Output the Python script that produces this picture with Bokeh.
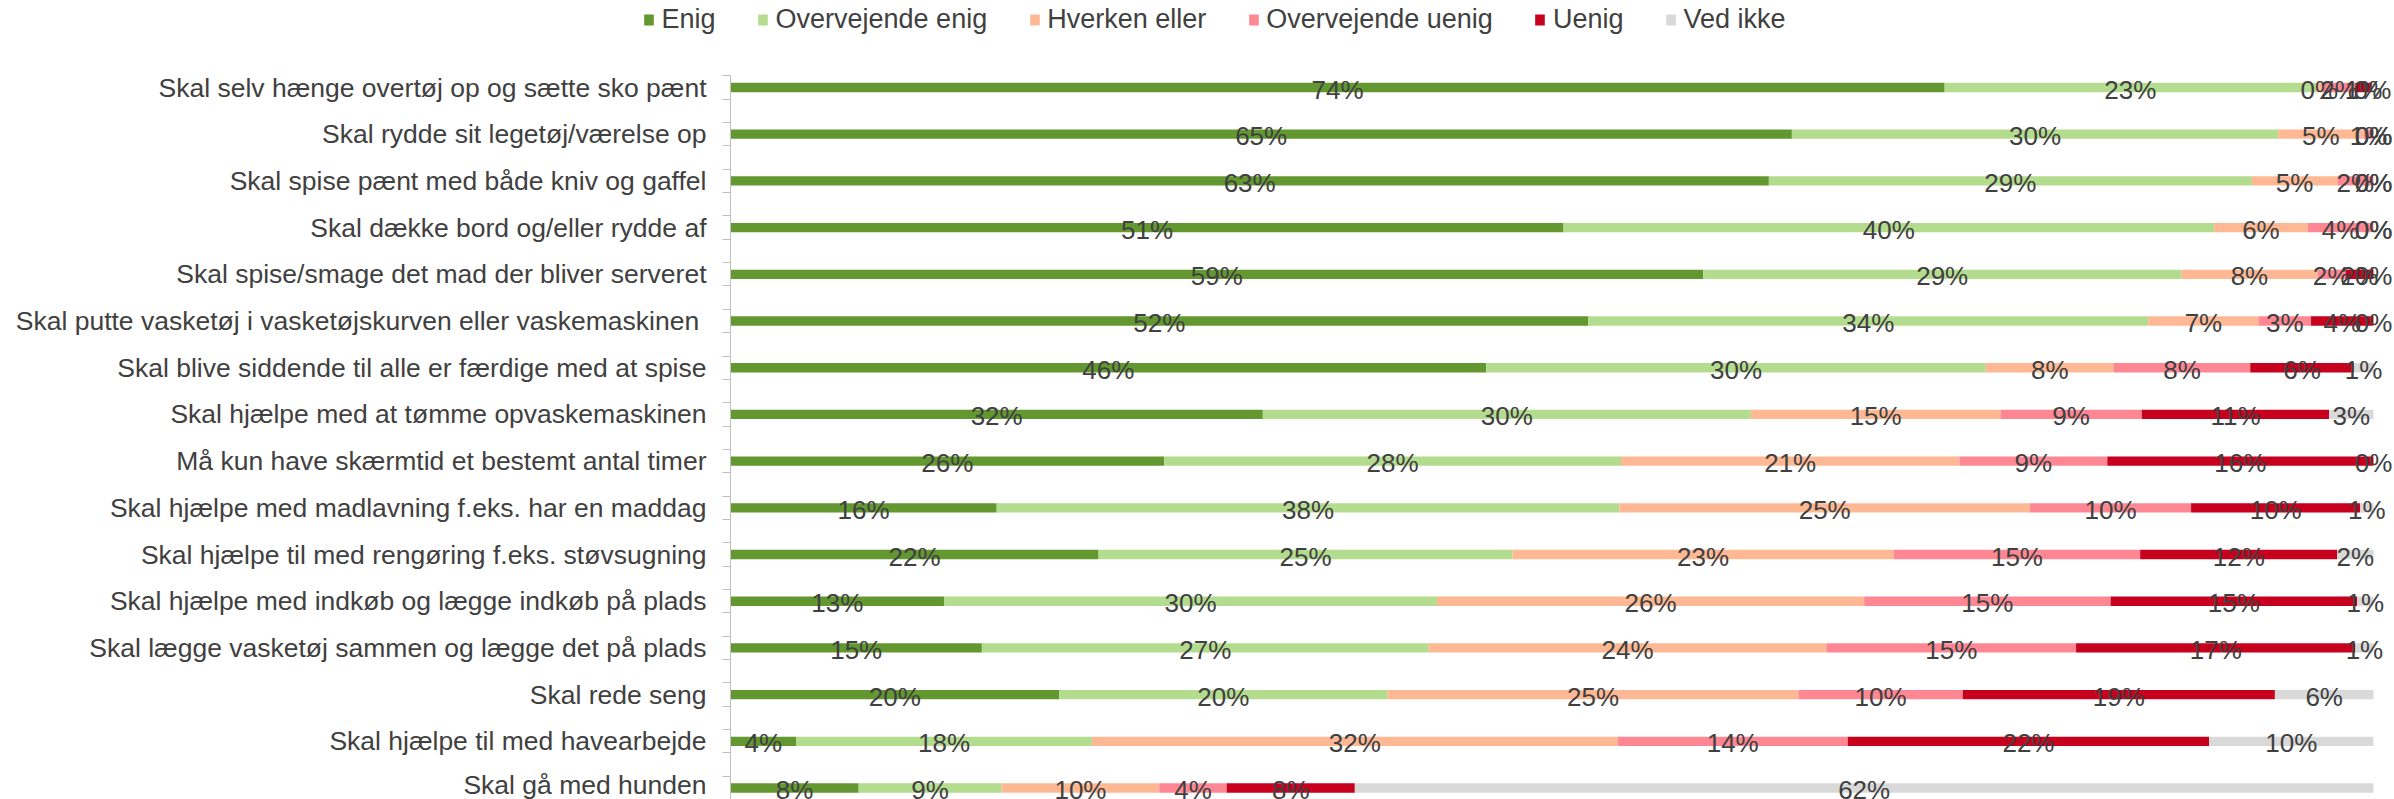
from bokeh.plotting import figure
from bokeh.layouts import column
from bokeh.models import Range1d, FixedTicker, Legend, LegendItem, ColumnDataSource
from bokeh.embed import file_html
from bokeh.resources import INLINE
from bokeh.core.properties import value

categories = [
    "Skal selv hænge overtøj op og sætte sko pænt",
    "Skal rydde sit legetøj/værelse op",
    "Skal spise pænt med både kniv og gaffel",
    "Skal dække bord og/eller rydde af",
    "Skal spise/smage det mad der bliver serveret",
    "Skal putte vasketøj i vasketøjskurven eller vaskemaskinen ",
    "Skal blive siddende til alle er færdige med at spise",
    "Skal hjælpe med at tømme opvaskemaskinen",
    "Må kun have skærmtid et bestemt antal timer",
    "Skal hjælpe med madlavning f.eks. har en maddag",
    "Skal hjælpe til med rengøring f.eks. støvsugning",
    "Skal hjælpe med indkøb og lægge indkøb på plads",
    "Skal lægge vasketøj sammen og lægge det på plads",
    "Skal rede seng",
    "Skal hjælpe til med havearbejde",
    "Skal gå med hunden",
]

series_names = ["Enig", "Overvejende enig", "Hverken eller",
                "Overvejende uenig", "Uenig", "Ved ikke"]

enig        = [73.9, 64.6, 63.2, 50.7, 59.2, 52.2, 46.0, 32.4, 26.4, 16.2, 22.4, 13.0, 15.3, 20.0, 4.0, 7.8]
overv_enig  = [22.6, 29.6, 29.4, 39.6, 29.1, 34.1, 30.4, 29.7, 27.8, 37.9, 25.2, 30.0, 27.2, 20.0, 18.0, 8.7]
hverken     = [0.4, 5.2, 5.2, 5.7, 8.3, 6.7, 7.8, 15.2, 20.6, 25.0, 23.2, 26.0, 24.2, 25.0, 32.0, 9.6]
overv_uenig = [2.0, 0.6, 2.2, 4.0, 1.7, 3.2, 8.3, 8.6, 9.0, 9.8, 15.0, 15.0, 15.2, 10.0, 14.0, 4.1]
uenig       = [1.0, 0.0, 0.0, 0.0, 1.7, 3.8, 6.3, 11.4, 16.2, 10.3, 12.0, 15.0, 17.0, 19.0, 22.0, 7.8]
ved_ikke    = [0.1, 0.0, 0.0, 0.0, 0.0, 0.0, 1.2, 2.7, 0.0, 0.8, 2.2, 1.0, 1.1, 6.0, 10.0, 62.0]

colors = ["#62982F", "#B4DC8F", "#FFB894", "#FF8793", "#C6001D", "#D9D9D9"]

all_series = [enig, overv_enig, hverken, overv_uenig, uenig, ved_ikke]
n = len(categories)
ys = list(range(n))

FONT = "Liberation Sans"
TXT = "#404040"

# ---- main chart ----
p = figure(width=2394, height=753, output_backend="svg", toolbar_location=None,
           x_range=Range1d(0, 101.28), y_range=Range1d(15.246, -0.257),
           min_border_left=730, min_border_right=0, min_border_top=29, min_border_bottom=0)
p.outline_line_color = None
p.xaxis.visible = False
p.xgrid.visible = False
p.ygrid.visible = False

left = [0.0] * n
label_x, label_y, label_t = [], [], []
for name, vals, col in zip(series_names, all_series, colors):
    right = [l + v for l, v in zip(left, vals)]
    src = ColumnDataSource(dict(y=ys, left=left, right=right))
    p.hbar(y="y", left="left", right="right", height=0.2, source=src,
           fill_color=col, line_color=None)
    for i in range(n):
        label_x.append((left[i] + right[i]) / 2)
        label_y.append(ys[i])
        label_t.append(f"{round(vals[i])}%")
    left = right

lsrc = ColumnDataSource(dict(x=label_x, y=label_y, t=label_t))
p.text(x="x", y="y", text="t", source=lsrc, text_align="center",
       text_baseline="middle", text_font=value(FONT), text_font_size="26px",
       text_color=TXT, y_offset=2)

yax = p.yaxis[0]
yax.ticker = FixedTicker(ticks=ys, minor_ticks=[i + d for i in ys for d in (-0.25, 0.25)])
yax.major_label_overrides = {i: c for i, c in enumerate(categories)}
yax.major_tick_line_color = None
yax.major_tick_out = 0
yax.major_tick_in = 0
yax.minor_tick_line_color = "#BFBFBF"
yax.minor_tick_out = 8
yax.minor_tick_in = 0
yax.axis_line_color = "#BFBFBF"
yax.major_label_text_font = FONT
yax.major_label_text_font_size = "26.5px"
yax.major_label_text_color = TXT
yax.major_label_standoff = 16

# ---- legend strip ----
lf = figure(width=1698, height=46, output_backend="svg", toolbar_location=None,
            x_range=Range1d(0, 1), y_range=Range1d(0, 1),
            min_border_left=730, min_border_right=0, min_border_top=41, min_border_bottom=0)
lf.outline_line_color = None
lf.xaxis.visible = False
lf.yaxis.visible = False
lf.xgrid.visible = False
lf.ygrid.visible = False

items = []
for name, vals, col in zip(series_names, all_series, colors):
    src = ColumnDataSource(dict(y=[-5.0], left=[0.0], right=[vals[0] / 100]))
    r = lf.hbar(y="y", left="left", right="right", height=0.2, source=src,
                fill_color=col, line_color=None)
    items.append(LegendItem(label=name, renderers=[r]))

legend = Legend(items=items, orientation="horizontal", location="center",
                label_text_font=FONT, label_text_font_size="27px",
                label_text_color=TXT, glyph_width=12, glyph_height=14,
                label_standoff=7, spacing=41, padding=0, margin=0,
                border_line_color=None, background_fill_alpha=0)
lf.add_layout(legend, "above")

layout = column(lf, p, spacing=0)
open("out.html", "w").write(file_html(layout, INLINE))
